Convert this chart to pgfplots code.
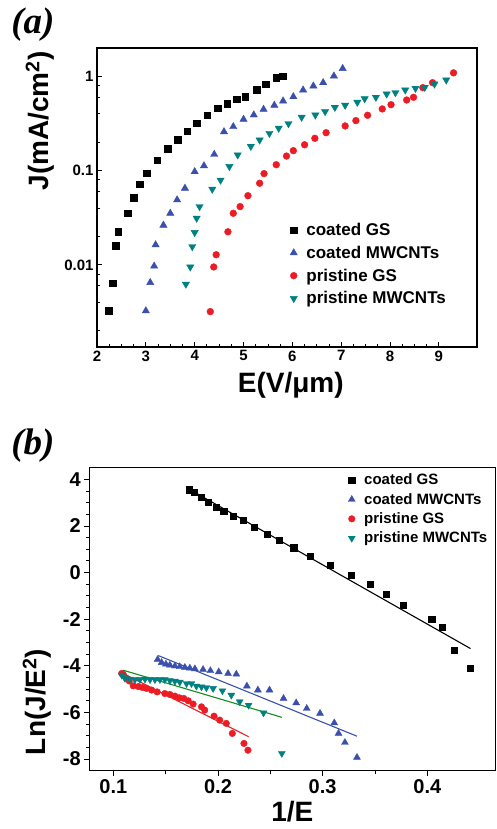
\documentclass[border=0pt]{standalone}
\usepackage{fontspec}
\setmainfont{Liberation Sans}
\newfontfamily\panelfont{Liberation Serif}
\usepackage{pgfplots}
\pgfplotsset{compat=1.18}
\definecolor{cgs}{RGB}{0,0,0}
\definecolor{cmw}{RGB}{58,80,172}
\definecolor{pgs}{RGB}{236,28,36}
\definecolor{pmw}{RGB}{0,128,128}
\definecolor{fitg}{RGB}{20,140,30}

\pgfplotsset{
  fepanel/.style={
    scale only axis,
    axis line style={line width=1.1pt},
    every tick/.style={black,line width=0.9pt},
    xtick pos=left, ytick pos=left,
    /pgf/number format/assume math mode=true,
    legend cell align=left,
    legend style={draw=none,fill=none,inner sep=1pt,
      /tikz/every odd column/.append style={column sep=7pt}},
  },
}

\begin{document}
\begin{tikzpicture}
\useasboundingbox (0,0) rectangle (496pt,829pt);
\node[font=\panelfont\bfseries\itshape\fontsize{37}{40}\selectfont] at (33pt,804pt) {(a)};
\node[font=\panelfont\bfseries\itshape\fontsize{37}{40}\selectfont] at (33pt,383pt) {(b)};

% ---- (a) J-E curves
\begin{axis}[fepanel,
  at={(97pt,482pt)}, anchor=south west,
  width=380pt, height=299pt,
  ymode=log,
  xmin=2, xmax=9.78, ymin=0.00135, ymax=1.98,
  xtick={2,3,4,5,6,7,8,9}, minor x tick num=3,
  ytick={0.01,0.1,1}, yticklabels={0.01,0.1,1},
  minor ytick={0.002,0.004,0.006,0.008,0.02,0.04,0.06,0.08,0.2,0.4,0.6,0.8},
  tick align=inside,
  major tick length=5pt, minor tick length=3pt,
  ticklabel style={font=\bfseries\fontsize{15}{17}\selectfont},
  xlabel={\bfseries E(V/μm)},
  ylabel={\bfseries J(mA/cm\textsuperscript{2})},
  label style={font=\fontsize{28}{30}\selectfont},
  xlabel style={at={(axis description cs:0.51,-0.127)},anchor=center},
  ylabel style={at={(axis description cs:-0.15,0.756)},anchor=center},
  legend style={at={(0.505,0.425)},anchor=north west,row sep=5pt,
    font=\bfseries\fontsize{17}{20}\selectfont},
]
\addplot[only marks,mark=square*,mark size=3.2pt,color=cgs] coordinates {
(2.24,0.00326) (2.32,0.0064) (2.38,0.016) (2.44,0.0225) (2.63,0.0355) (2.75,0.0515)
(2.875,0.0714) (3.02,0.093) (3.23,0.128) (3.45,0.170) (3.65,0.212) (3.85,0.26)
(4.04,0.316) (4.26,0.384) (4.47,0.458) (4.66,0.51) (4.86,0.571) (5.04,0.604)
(5.27,0.716) (5.45,0.823) (5.67,0.96) (5.8,1.0)
};
\addplot[only marks,mark=triangle*,mark size=4.2pt,color=cmw] coordinates {
(3.0,0.00326) (3.09,0.0065) (3.17,0.0097) (3.2,0.0163) (3.36,0.0263) (3.5,0.0352)
(3.64,0.0488) (3.8,0.0648) (4.0,0.097) (4.19,0.112) (4.4,0.148) (4.6,0.257)
(4.79,0.291) (5.0,0.348) (5.21,0.387) (5.41,0.444) (5.63,0.49) (5.81,0.544)
(6.02,0.604) (6.22,0.711) (6.43,0.784) (6.63,0.85) (6.85,1.0) (7.03,1.2)
};
\addplot[only marks,mark=*,mark size=3.4pt,color=pgs] coordinates {
(4.32,0.0032) (4.39,0.0095) (4.44,0.0128) (4.68,0.0224) (4.79,0.0352) (4.93,0.0414)
(5.09,0.054) (5.33,0.0732) (5.42,0.0925) (5.67,0.115) (5.88,0.142) (6.02,0.162)
(6.25,0.187) (6.46,0.219) (6.69,0.251) (7.08,0.296) (7.3,0.337) (7.54,0.384)
(7.84,0.448) (8.02,0.497) (8.34,0.557) (8.48,0.595) (8.67,0.753) (8.87,0.85)
(9.3,1.08)
};
\addplot[only marks,mark=triangle*,mark options={rotate=180},mark size=4.2pt,color=pmw] coordinates {
(3.82,0.00625) (3.91,0.0095) (3.95,0.0156) (4.0,0.022) (4.04,0.0312) (4.1,0.0414)
(4.36,0.0633) (4.53,0.079) (4.71,0.11) (4.88,0.146) (5.15,0.18) (5.33,0.21)
(5.53,0.247) (5.72,0.28) (5.92,0.313) (6.19,0.366) (6.47,0.387) (6.67,0.42)
(6.87,0.466) (7.08,0.49) (7.33,0.527) (7.48,0.575) (7.71,0.595) (7.93,0.645)
(8.11,0.667) (8.31,0.711) (8.52,0.741) (8.71,0.759) (8.91,0.823) (9.15,0.908)
};
\legend{coated GS, coated MWCNTs, pristine GS, pristine MWCNTs}
\end{axis}

% ---- (b) Fowler-Nordheim plot
\begin{axis}[fepanel,
  at={(89.3pt,58.3pt)}, anchor=south west,
  width=406pt, height=303pt,
  xmin=0.077, xmax=0.465, ymin=-8.5, ymax=4.5,
  xtick={0.1,0.2,0.3,0.4}, minor x tick num=1,
  ytick={-8,-6,-4,-2,0,2,4}, minor y tick num=3,
  xticklabel style={/pgf/number format/fixed,/pgf/number format/precision=1},
  tick align=outside,
  major tick length=5pt, minor tick length=3pt,
  ticklabel style={font=\bfseries\fontsize{20}{22}\selectfont},
  xlabel={\bfseries 1/E},
  ylabel={\bfseries Ln(J/E\textsuperscript{2})},
  label style={font=\fontsize{28}{30}\selectfont},
  xlabel style={at={(axis description cs:0.50,-0.135)},anchor=center},
  ylabel style={at={(axis description cs:-0.129,0.227)},anchor=center},
  legend style={at={(0.635,0.99)},anchor=north west,row sep=3pt,
    font=\bfseries\fontsize{15}{17}\selectfont},
]
\addplot[only marks,mark=square*,mark size=3.1pt,color=cgs] coordinates {
(0.1724,3.56) (0.1771,3.44) (0.1838,3.23) (0.1905,3.01) (0.1985,2.79) (0.2054,2.63)
(0.2143,2.43) (0.2238,2.24) (0.2343,1.96) (0.247,1.64) (0.2588,1.39) (0.2724,1.07)
(0.288,0.71) (0.3073,0.31) (0.3276,-0.11) (0.3457,-0.51) (0.361,-0.93) (0.3771,-1.39)
(0.4042,-1.99) (0.4143,-2.36) (0.4254,-3.33) (0.4407,-4.1)
};
\addplot[only marks,mark=triangle*,mark size=4pt,color=cmw] coordinates {
(0.1423,-3.73) (0.1461,-3.86) (0.1502,-3.93) (0.154,-3.97) (0.1588,-4.01) (0.1634,-4.04)
(0.1683,-4.07) (0.1731,-4.10) (0.1779,-4.13) (0.1857,-4.16) (0.1927,-4.21) (0.2007,-4.26)
(0.2096,-4.33) (0.2175,-4.36) (0.2276,-4.87) (0.2381,-5.04) (0.2492,-5.04) (0.2626,-5.40)
(0.2747,-5.59) (0.2848,-5.83) (0.2975,-6.04) (0.3111,-6.45) (0.3152,-6.90) (0.3213,-7.29)
(0.3328,-7.93)
};
\addplot[only marks,mark=*,mark size=3.3pt,color=pgs] coordinates {
(0.1079,-4.33) (0.1095,-4.37) (0.112,-4.52) (0.1152,-4.65) (0.119,-4.86) (0.1238,-4.89)
(0.1279,-4.93) (0.1317,-4.97) (0.1365,-5.04) (0.1419,-5.12) (0.1492,-5.19) (0.154,-5.23)
(0.1588,-5.30) (0.1629,-5.37) (0.1673,-5.40) (0.1715,-5.50) (0.1762,-5.64) (0.1842,-5.76)
(0.1873,-5.90) (0.1962,-6.16) (0.2016,-6.33) (0.2079,-6.47) (0.2137,-6.90) (0.2248,-7.33)
(0.2286,-7.62)
};
\addplot[only marks,mark=triangle*,mark options={rotate=180},mark size=4pt,color=pmw] coordinates {
(0.108,-4.40) (0.1111,-4.54) (0.1159,-4.57) (0.1206,-4.59) (0.1254,-4.59) (0.1302,-4.57)
(0.135,-4.59) (0.1397,-4.59) (0.1445,-4.59) (0.1492,-4.59) (0.154,-4.63) (0.1588,-4.66)
(0.1635,-4.70) (0.1699,-4.76) (0.1746,-4.76) (0.1794,-4.87) (0.1842,-4.90) (0.1889,-4.94)
(0.1953,-4.97) (0.2042,-5.07) (0.2127,-5.26) (0.2207,-5.54) (0.2292,-5.69) (0.2435,-6.02)
(0.261,-7.76)
};
\legend{coated GS, coated MWCNTs, pristine GS, pristine MWCNTs}
\addplot[forget plot,no marks,black,line width=1.1pt] coordinates {(0.17,3.64) (0.4413,-3.26)};
\addplot[forget plot,no marks,cmw,line width=1.1pt] coordinates {(0.1429,-3.56) (0.3328,-7.02)};
\addplot[forget plot,no marks,fitg,line width=1.1pt] coordinates {(0.1095,-4.19) (0.261,-6.21)};
\addplot[forget plot,no marks,pgs,line width=1.1pt] coordinates {(0.1064,-4.26) (0.2292,-7.04)};
\end{axis}
\end{tikzpicture}
\end{document}
